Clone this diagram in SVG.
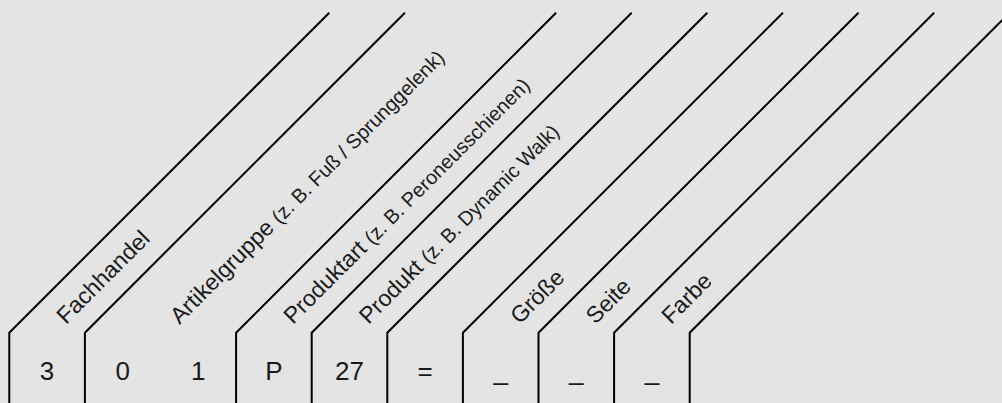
<svg xmlns="http://www.w3.org/2000/svg" width="1002" height="403" viewBox="0 0 1002 403">
<style>
.sep{fill:none;stroke:#000;stroke-width:2;stroke-linejoin:miter}
.val{font-family:"Liberation Sans",Arial,sans-serif;font-size:26px;fill:#1a1a1a;text-anchor:middle}
.lbl{font-family:"Liberation Sans",Arial,sans-serif;font-size:23px;fill:#1a1a1a}
.sub{font-size:20px}
</style>
<rect width="1002" height="403" fill="#e4e4e4"/>
<g id="connectors">
<path class="sep" d="M9.3,403V332.7L329.3,12.7"/>
<path class="sep" d="M84.9,403V332.7L404.9,12.7"/>
<path class="sep" d="M236.1,403V332.7L556.1,12.7"/>
<path class="sep" d="M311.7,403V332.7L631.7,12.7"/>
<path class="sep" d="M387.3,403V332.7L707.3,12.7"/>
<path class="sep" d="M462.9,403V332.7L782.9,12.7"/>
<path class="sep" d="M538.5,403V332.7L858.5,12.7"/>
<path class="sep" d="M614.1,403V332.7L934.1,12.7"/>
<path class="sep" d="M689.7,403V332.7L1009.7,12.7"/>
</g>
<g id="fachhandel">
<text class="lbl" transform="translate(66.1,325) rotate(-45)">Fachhandel</text>
<text class="val" x="47.1" y="380">3</text>
</g>
<g id="artikelgruppe">
<text class="lbl" transform="translate(179.5,325) rotate(-45)">Artikelgruppe <tspan class="sub">(z. B. Fuß / Sprunggelenk)</tspan></text>
<text class="val" x="122.7" y="380">0</text>
<text class="val" x="198.3" y="380">1</text>
</g>
<g id="produktart">
<text class="lbl" transform="translate(292.9,325) rotate(-45)">Produktart <tspan class="sub">(z. B. Peroneusschienen)</tspan></text>
<text class="val" x="273.9" y="380">P</text>
</g>
<g id="produkt">
<text class="lbl" transform="translate(368.5,325) rotate(-45)">Produkt <tspan class="sub">(z. B. Dynamic Walk)</tspan></text>
<text class="val" x="349.5" y="380">27</text>
</g>
<g id="gleich">
<text class="val" x="425.1" y="380">=</text>
</g>
<g id="groesse">
<text class="lbl" transform="translate(519.7,325) rotate(-45)">Größe</text>
<text class="val" x="500.7" y="380">_</text>
</g>
<g id="seite">
<text class="lbl" transform="translate(595.3,325) rotate(-45)">Seite</text>
<text class="val" x="576.3" y="380">_</text>
</g>
<g id="farbe">
<text class="lbl" transform="translate(670.9,325) rotate(-45)">Farbe</text>
<text class="val" x="651.9" y="380">_</text>
</g>
</svg>
